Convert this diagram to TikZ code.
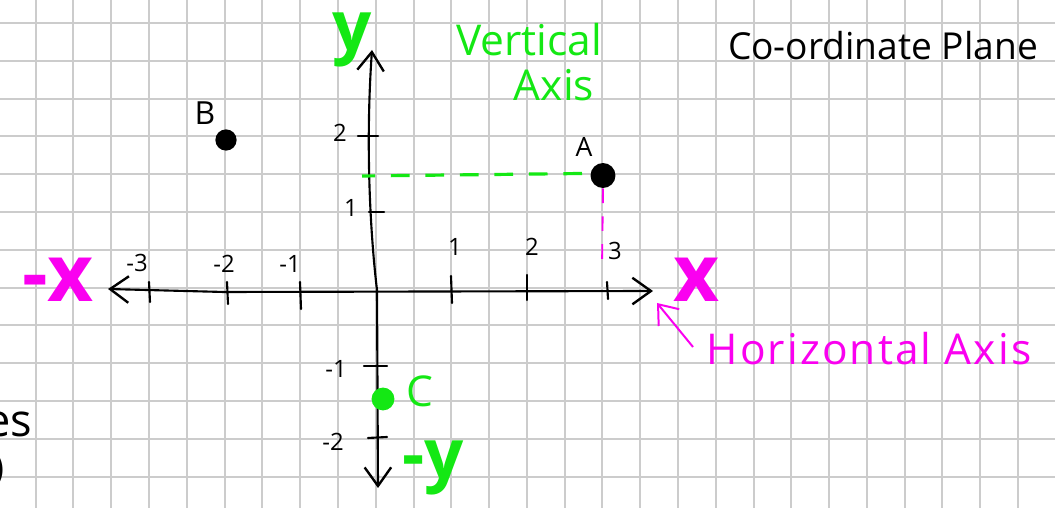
\documentclass[tikz,border=0pt]{standalone}
\usepackage{fontspec}
\setmainfont{Open Sans}
\usetikzlibrary{arrows.meta}
\definecolor{gridgray}{RGB}{204,204,204}
\definecolor{hgreen}{RGB}{20,232,20}
\definecolor{hmag}{RGB}{250,0,240}
\tikzset{
  gridline/.style={draw=gridgray, line width=0.75pt},
  axisline/.style={draw=black, line width=0.8pt, line cap=round,
    {Straight Barb[length=7pt,width=10pt,line width=0.9pt]}-{Straight Barb[length=7pt,width=10pt,line width=0.9pt]}},
  tickline/.style={draw=black, line width=0.8pt, line cap=round},
  ticklabel/.style={font=\fontsize{9}{9}\selectfont, inner sep=0pt},
  ptdot/.style={circle, fill=#1, inner sep=0pt},
  ptlabel/.style={inner sep=0pt},
  bigletter/.style={inner sep=0pt, font=\bfseries\fontsize{26}{26}\selectfont},
  greendash/.style={draw=hgreen, line width=1.2pt, dash pattern=on 7pt off 6pt},
  magdash/.style={draw=hmag, line width=0.7pt, dash pattern=on 5.5pt off 5pt},
  magarrow/.style={draw=hmag, line width=0.75pt, -{Straight Barb[length=6.5pt,width=10pt]}},
  note/.style={inner sep=0pt},
}
\begin{document}
\begin{tikzpicture}[x=0.013245cm,y=-0.013245cm]
\useasboundingbox (0,0) rectangle (1055,508);
\fill[white] (0,0) rectangle (1055,508);
% grid paper
\foreach \i in {0,...,27} \draw[gridline] ({35.7+37.78*\i},0) -- ({35.7+37.78*\i},508);
\foreach \j in {0,...,12} \draw[gridline] (0,{23.1+37.8*\j}) -- (1055,{23.1+37.8*\j});

% axes
\coordinate (ytop) at (372,50);
\coordinate (ybot) at (378,488);
\coordinate (xleft) at (108,289);
\coordinate (xright) at (653,291);
\coordinate (o) at (377,290);
\draw[axisline] (ytop) .. controls (365,150) and (371,240) .. (o) -- (ybot);
\draw[axisline] (xleft) -- (224,292) -- (xright);

% x ticks
\draw[tickline] (149,282) -- (150,302);
\draw[tickline] (227,282) -- (228,304);
\draw[tickline] (300,282) -- (301,309);
\draw[tickline] (451,276) -- (452,303);
\draw[tickline] (527,275) -- (527,300);
\draw[tickline] (607,282) -- (608,299);
% y ticks
\draw[tickline] (358,136) -- (378,136);
\draw[tickline] (369,212) -- (384,212);
\draw[tickline] (364,366) -- (387,366);
\draw[tickline] (368,438) -- (387,437);

% tick labels
\node[ticklabel] (lxm3) at (137,263) {-3};
\node[ticklabel] (lxm2) at (224,264) {-2};
\node[ticklabel] (lxm1) at (290,264) {-1};
\node[ticklabel] (lx1) at (455,247) {1};
\node[ticklabel] (lx2) at (532,247) {2};
\node[ticklabel] (lx3) at (615,251) {3};
\node[ticklabel] (ly2) at (340,133) {2};
\node[ticklabel] (ly1) at (351,208) {1};
\node[ticklabel] (lym1) at (336,369) {-1};
\node[ticklabel] (lym2) at (333,442) {-2};

% points
\node[ptdot=black, minimum size=8pt] (B) at (226,140) {};
\node[ptlabel, font=\fontsize{12}{12}\selectfont] (Blab) at (205,113) {B};
\node[ptdot=black, minimum size=9.4pt] (A) at (603,175.5) {};
\node[ptlabel, font=\fontsize{10}{10}\selectfont] (Alab) at (584,147) {A};
\node[ptdot=hgreen, minimum size=8.6pt] (C) at (383,399) {};
\node[ptlabel, text=hgreen, font=\fontsize{16}{16}\selectfont] (Clab) at (420,391) {C};

% projection lines of A
\coordinate (yA) at (362,176);
\coordinate (xA) at (602,268);
\draw[greendash] (A.west) ++(-8,-2) -- (yA);
\draw[magdash] (A.south) -- (xA);

% axis names
\node[bigletter, text=hgreen] (ylab) at (352,40) {y};
\node[bigletter, text=hgreen] (ymlab) at (433,468) {-y};
\node[bigletter, text=hmag, font=\bfseries\fontsize{30}{30}\selectfont] (xlab) at (697,280) {x};
\node[bigletter, text=hmag, font=\bfseries\fontsize{30}{30}\selectfont] (xmlab) at (58,280) {-x};

% notes
\node[note, text=hgreen, font=\fontsize{16}{16}\selectfont] (vert1) at (529,40) {Vertical};
\node[note, text=hgreen, font=\fontsize{16}{16}\selectfont] (vert2) at (554,85) {Axis};
\node[note, font=\fontsize{14}{14}\selectfont] (title) at (883,46) {Co-ordinate Plane};
\node[note, text=hmag, font=\fontsize{16}{16}\selectfont\addfontfeature{LetterSpace=5}] (horiz) at (869,349) {Horizontal Axis};
\coordinate (htail) at (693,347);
\coordinate (htip) at (657,303);
\draw[magarrow] (htail) -- (htip);

% text cut off at the left edge
\node[note, anchor=east, font=\fontsize{17}{17}\selectfont] (cut1) at (33,424) {es};
\node[note, anchor=east, font=\fontsize{14}{14}\selectfont] (cut2) at (5,470) {)};
\end{tikzpicture}
\end{document}
